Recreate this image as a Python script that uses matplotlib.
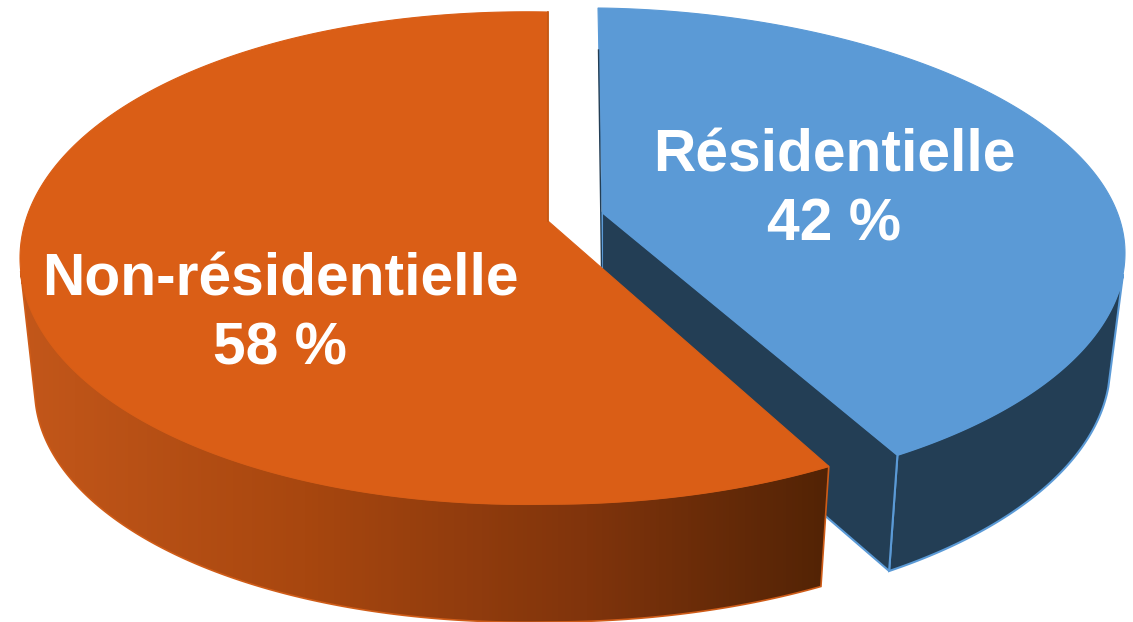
import numpy as np
import matplotlib
matplotlib.use("Agg")
import matplotlib.pyplot as plt
from matplotlib.colors import LinearSegmentedColormap
from matplotlib.patches import Polygon

labels = ["Non-résidentielle", "Résidentielle"]
values = [58, 42]

W, H = 1133, 622
ORANGE = "#da5e16"
ORANGE_EDGE = "#c25713"
BLUE = "#5b9ad6"
NAVY = "#233e55"

SHRINK = 0.972   # lower rim is a bit narrower, perspective


def bulge(phi, e):
    # the rim is not a clean ellipse, nudge it on one side
    mask = np.cos(phi) * e["side"] > 0
    mask &= (e["side"] < 0) | (np.sin(phi) > 0)
    return e["bulge"] * np.sin(2 * phi) * mask


def ellipse_xy(phi, e):
    x = e["cx"] + e["a"] * np.cos(phi)
    y = e["cy"] - e["b"] * np.sin(phi) + bulge(phi, e)
    return np.column_stack([x, y])


def lower_xy(phi, e):
    x = e["cx"] + SHRINK * e["a"] * np.cos(phi)
    y = e["cy_low"] - e["b_low"] * np.sin(phi) + bulge(phi, e)
    return np.column_stack([x, y])


def true_to_phi(t, tilt):
    # the pie centre does not sit at the centre of the projected ellipse
    s, c = np.sin(t), np.cos(t)
    d = 1 + tilt * s
    return np.arctan2((s + tilt) / d, c * np.sqrt(1 - tilt ** 2) / d)


orange = {"cx": 548, "cy": 258, "a": 528, "b": 246, "apex": (548, 221),
          "cy_low": 390, "b_low": 232, "bulge": 5, "side": -1}
blue = {"cx": 600, "cy": 253, "a": 525, "b": 245, "apex": (602, 212),
        "cy_low": 365, "b_low": 250, "bulge": 4, "side": 1}
orange["tilt"] = (orange["cy"] - orange["apex"][1]) / orange["b"]
blue["tilt"] = (blue["cy"] - blue["apex"][1]) / blue["b"]

# slices start at 12 o'clock, orange goes counter-clockwise
split = np.pi / 2 + 2 * np.pi * values[0] / sum(values)
phi_o_end = true_to_phi(split - np.radians(1.0), orange["tilt"]) + 2 * np.pi
phi_b_end = true_to_phi(split + np.radians(0.6), blue["tilt"])

fig = plt.figure(figsize=(W / 100, H / 100), dpi=100)
ax = fig.add_axes([0, 0, 1, 1])

# blue slice, drawn first because orange hides part of its wall
phi = np.linspace(phi_b_end, np.radians(-5), 100)
outer = np.vstack([ellipse_xy(phi, blue), lower_xy(phi, blue)[::-1]])
ax.add_patch(Polygon(outer, closed=True, fc=NAVY, ec=BLUE, lw=1.5, zorder=1))

corner = ellipse_xy(np.array([phi_b_end]), blue)[0]
corner_low = lower_xy(np.array([phi_b_end]), blue)[0]
apex_b = np.array(blue["apex"], dtype=float)
apex_low = np.array([apex_b[0], blue["cy_low"] - blue["tilt"] * blue["b_low"]])
ax.add_patch(Polygon([apex_b, corner, corner_low, apex_low], closed=True,
                     fc=NAVY, ec=BLUE, lw=1.5, zorder=2))

phi = np.linspace(phi_b_end, np.pi / 2, 200)
top = np.vstack([blue["apex"], ellipse_xy(phi, blue)])
top[-1, 0] -= 2
ax.add_patch(Polygon(top, closed=True, fc=BLUE, ec=BLUE, lw=0.8, zorder=3))
ax.plot([apex_b[0] - 3.5, apex_b[0] - 0.5], [50, 266], color=NAVY, lw=1.0, zorder=4)

# orange wall with the left to right shading
phi = np.linspace(np.radians(183), phi_o_end, 200)
wall = np.vstack([ellipse_xy(phi, orange), lower_xy(phi, orange)[::-1]])
shade = LinearSegmentedColormap.from_list(
    "wall", [(0, "#c3571a"), (0.35, "#a8470f"), (0.7, "#80340c"), (1, "#522305")])
wall_patch = Polygon(wall, closed=True, fc="none", ec="#cf5c18", lw=1.2, zorder=6)
ax.add_patch(wall_patch)
grad = ax.imshow(np.linspace(0, 1, 256).reshape(1, -1), cmap=shade, aspect="auto",
                 extent=(wall[:, 0].min(), wall[:, 0].max(), H, 0), zorder=5)
grad.set_clip_path(wall_patch)

phi = np.linspace(np.pi / 2, phi_o_end, 300)
top = np.vstack([orange["apex"], ellipse_xy(phi, orange)])
ax.add_patch(Polygon(top, closed=True, fc=ORANGE, ec=ORANGE, lw=0.8, zorder=7))
ax.plot([top[0, 0], top[1, 0]], [top[0, 1], top[1, 1]], color=ORANGE_EDGE, lw=1.2, zorder=7)

# labels
label_pos = [(280, 280), (834, 156)]
for name, val, (x, y) in zip(labels, values, label_pos):
    ax.text(x, y, name, color="white", fontsize=42.3, fontweight="bold",
            family="Liberation Sans", ha="center", va="center", zorder=8)
    ax.text(x, y + 69, f"{val} %", color="white", fontsize=42.3, fontweight="bold",
            family="Liberation Sans", ha="center", va="center", zorder=8)

ax.set_xlim(0, W)
ax.set_ylim(H, 0)
ax.axis("off")
fig.savefig("out.png", dpi=100, facecolor="white")
